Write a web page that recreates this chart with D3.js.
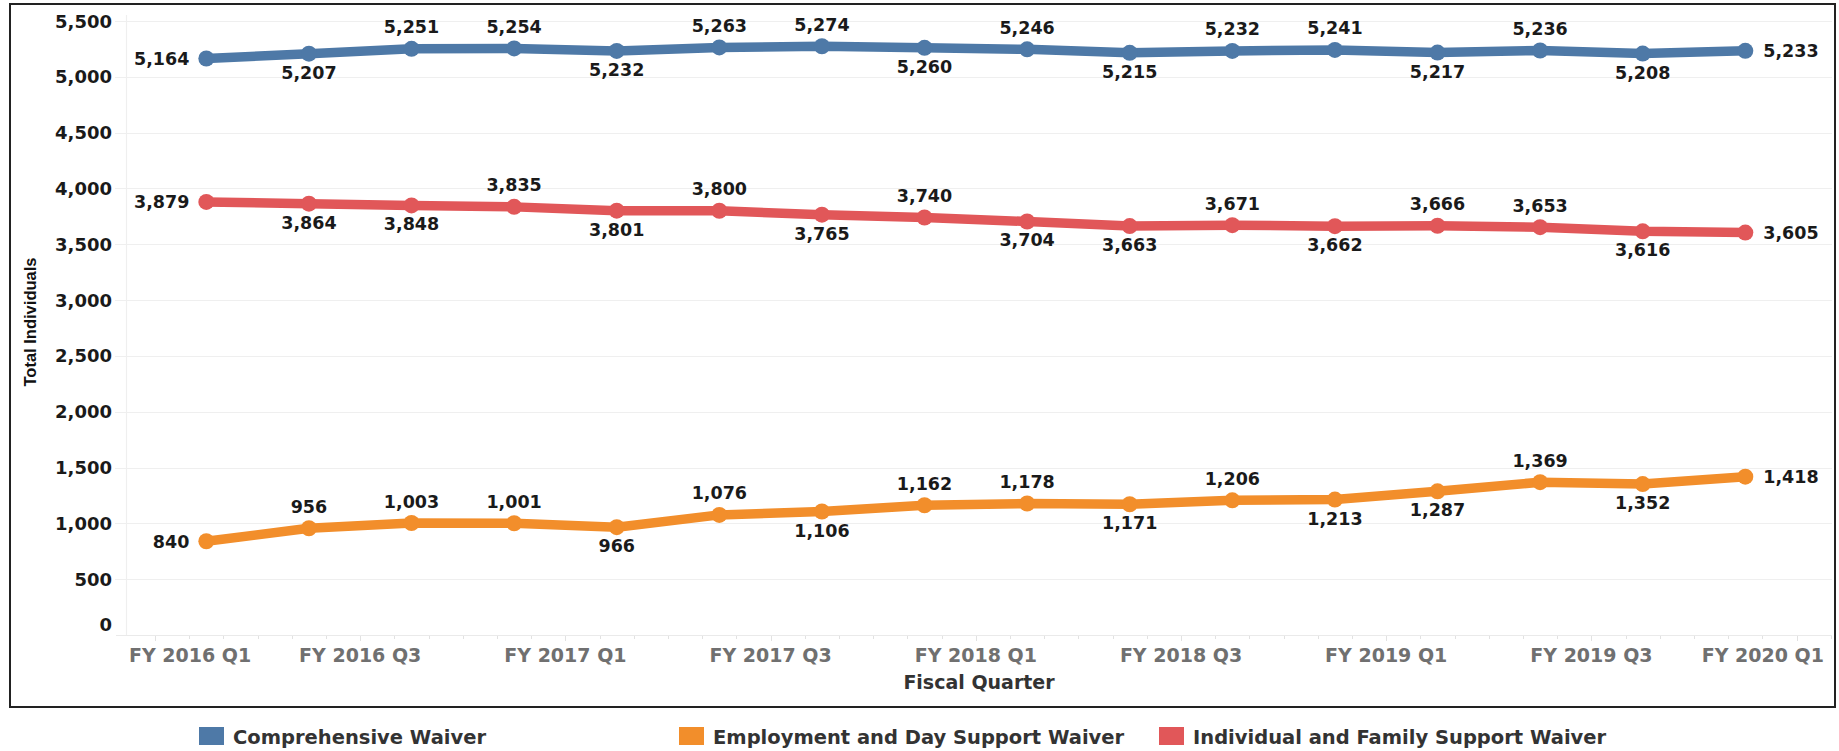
<!DOCTYPE html>
<html><head><meta charset="utf-8">
<script src="https://cdn.jsdelivr.net/npm/d3@7"></script>
<style>
html,body{margin:0;padding:0;background:#fff;}
svg{display:block;}
text{font-family:"DejaVu Sans",sans-serif;font-weight:bold;}
</style></head>
<body>
<svg id="chart" width="1839" height="751"></svg>
<script>
// ---------- data ----------
const quarters = ["FY 2016 Q1","FY 2016 Q2","FY 2016 Q3","FY 2016 Q4",
                  "FY 2017 Q1","FY 2017 Q2","FY 2017 Q3","FY 2017 Q4",
                  "FY 2018 Q1","FY 2018 Q2","FY 2018 Q3","FY 2018 Q4",
                  "FY 2019 Q1","FY 2019 Q2","FY 2019 Q3","FY 2019 Q4"];
const tickLabels = ["FY 2016 Q1","FY 2016 Q3","FY 2017 Q1","FY 2017 Q3","FY 2018 Q1",
                    "FY 2018 Q3","FY 2019 Q1","FY 2019 Q3","FY 2020 Q1"];
const yTicks = [0,500,1000,1500,2000,2500,3000,3500,4000,4500,5000,5500];
const seriesNames = ["Comprehensive Waiver","Employment and Day Support Waiver","Individual and Family Support Waiver"];
const comprehensive = [5164,5207,5251,5254,5232,5263,5274,5260,5246,5215,5232,5241,5217,5236,5208,5233];
const employment    = [840,956,1003,1001,966,1076,1106,1162,1178,1171,1206,1213,1287,1369,1352,1418];
const individual    = [3879,3864,3848,3835,3801,3800,3765,3740,3704,3663,3671,3662,3666,3653,3616,3605];

// ---------- label placement & styles ----------
const comprehensiveSide = ["L","B","A","A","B","A","A","B","A","B","A","A","B","A","B","R"];
const employmentSide    = ["L","A","A","A","B","A","B","A","A","B","A","B","B","A","B","R"];
const individualSide    = ["L","B","B","A","B","A","B","A","B","B","A","B","A","A","B","R"];
const seriesColors = ["#4E79A7","#F28E2B","#E15759"];

const series = [
  {name: seriesNames[0], values: comprehensive, side: comprehensiveSide, color: seriesColors[0]},
  {name: seriesNames[1], values: employment,    side: employmentSide,    color: seriesColors[1]},
  {name: seriesNames[2], values: individual,    side: individualSide,    color: seriesColors[2]}
];

const svg = d3.select("#chart");
const plot = {left: 126, right: 1832, top: 21, bottom: 635};

// x in quarter units: quarter i spans [i, i+1]; FY 2016 Q1 starts at 0
const x = d3.scaleLinear().domain([-0.283, 16.345]).range([plot.left, plot.right]);
const y = d3.scaleLinear().domain([0, 5500]).range([plot.bottom, plot.top]);

// outer border
svg.append("rect").attr("x", 10).attr("y", 4).attr("width", 1825).attr("height", 703)
  .attr("fill", "none").attr("stroke", "#222").attr("stroke-width", 2);

// horizontal gridlines
svg.append("g").selectAll("line").data(yTicks.filter(d => d > 0)).join("line")
  .attr("x1", 115).attr("x2", plot.right)
  .attr("y1", d => Math.round(y(d)) + 0.5).attr("y2", d => Math.round(y(d)) + 0.5)
  .attr("stroke", "#efefef").attr("stroke-width", 1.2);

// left vertical line of the pane
svg.append("line").attr("x1", plot.left + 0.5).attr("x2", plot.left + 0.5)
  .attr("y1", plot.top - 6).attr("y2", plot.bottom)
  .attr("stroke", "#efefef").attr("stroke-width", 1.2);

// x baseline
svg.append("line").attr("x1", 116).attr("x2", plot.right)
  .attr("y1", Math.round(y(0)) + 0.5).attr("y2", Math.round(y(0)) + 0.5)
  .attr("stroke", "#eaeaea").attr("stroke-width", 1.2);

// month ticks (faint)
const monthTicks = d3.range(0, 16.34, 1/3);
svg.append("g").selectAll("line").data(monthTicks).join("line")
  .attr("x1", d => Math.round(x(d)) + 0.5).attr("x2", d => Math.round(x(d)) + 0.5)
  .attr("y1", y(0) + 1).attr("y2", (d, i) => y(0) + (i % 6 === 0 ? 6 : 4))
  .attr("stroke", "#e2e2e2").attr("stroke-width", 1);

// y tick labels
svg.append("g").selectAll("text").data(yTicks).join("text")
  .attr("x", 112)
  .attr("y", d => d === 0 ? y(d) - 4 : y(d) + 6.5)
  .attr("text-anchor", "end")
  .attr("font-size", 18).attr("fill", "#1a1a1a")
  .text(d => d3.format(",")(d));

// x tick labels, clamped inside the pane
const xl = svg.append("g").selectAll("text").data(tickLabels).join("text")
  .attr("y", 661.5).attr("text-anchor", "middle")
  .attr("font-size", 19).attr("fill", "#707070")
  .text(d => d);
xl.each(function(d, i) {
  const w = this.getComputedTextLength();
  let cx = x(i * 2);
  if (cx - w / 2 < plot.left + 3) cx = plot.left + 3 + w / 2;
  if (cx + w / 2 > plot.right - 8) cx = plot.right - 8 - w / 2;
  d3.select(this).attr("x", cx);
});

// axis titles
svg.append("text").attr("x", (plot.left + plot.right) / 2).attr("y", 689)
  .attr("text-anchor", "middle").attr("font-size", 19).attr("fill", "#333")
  .text("Fiscal Quarter");
svg.append("text").attr("transform", "translate(36,322) rotate(-90)")
  .attr("text-anchor", "middle").attr("font-size", 16.5).attr("fill", "#111")
  .style("font-family", "'Liberation Sans', Arial, sans-serif")
  .text("Total Individuals");

// lines
const line = d3.line().x((d, i) => x(i + 0.5)).y(d => y(d)).curve(d3.curveLinear);
const g = svg.append("g");
series.forEach(s => {
  g.append("path").datum(s.values).attr("d", line)
    .attr("fill", "none").attr("stroke", s.color).attr("stroke-width", 9.5)
    .attr("stroke-linejoin", "round").attr("stroke-linecap", "round");
  g.append("g").selectAll("circle").data(s.values).join("circle")
    .attr("cx", (d, i) => x(i + 0.5)).attr("cy", d => y(d)).attr("r", 8)
    .attr("fill", s.color);
});

// data labels
const fmt = d3.format(",");
series.forEach(s => {
  svg.append("g").selectAll("text").data(s.values).join("text")
    .attr("font-size", 17.5).attr("fill", "#1a1a1a")
    .attr("text-anchor", (d, i) => s.side[i] === "L" ? "end" : s.side[i] === "R" ? "start" : "middle")
    .attr("x", (d, i) => s.side[i] === "L" ? x(i + 0.5) - 17 : s.side[i] === "R" ? x(i + 0.5) + 18 : x(i + 0.5))
    .attr("y", (d, i) => {
      const p = y(d);
      if (s.side[i] === "A") return p - 15.5;
      if (s.side[i] === "B") return p + 25;
      return p + 6.5;
    })
    .text(d => fmt(d));
});

// legend
const legend = svg.append("g").selectAll("g").data(series).join("g")
  .attr("transform", (d, i) => `translate(${199 + i * 480},727)`);
legend.append("rect").attr("width", 25).attr("height", 18).attr("fill", d => d.color);
legend.append("text").attr("x", 34).attr("y", 17).attr("font-size", 19.5).attr("fill", "#333")
  .text(d => d.name);
</script>
</body></html>
